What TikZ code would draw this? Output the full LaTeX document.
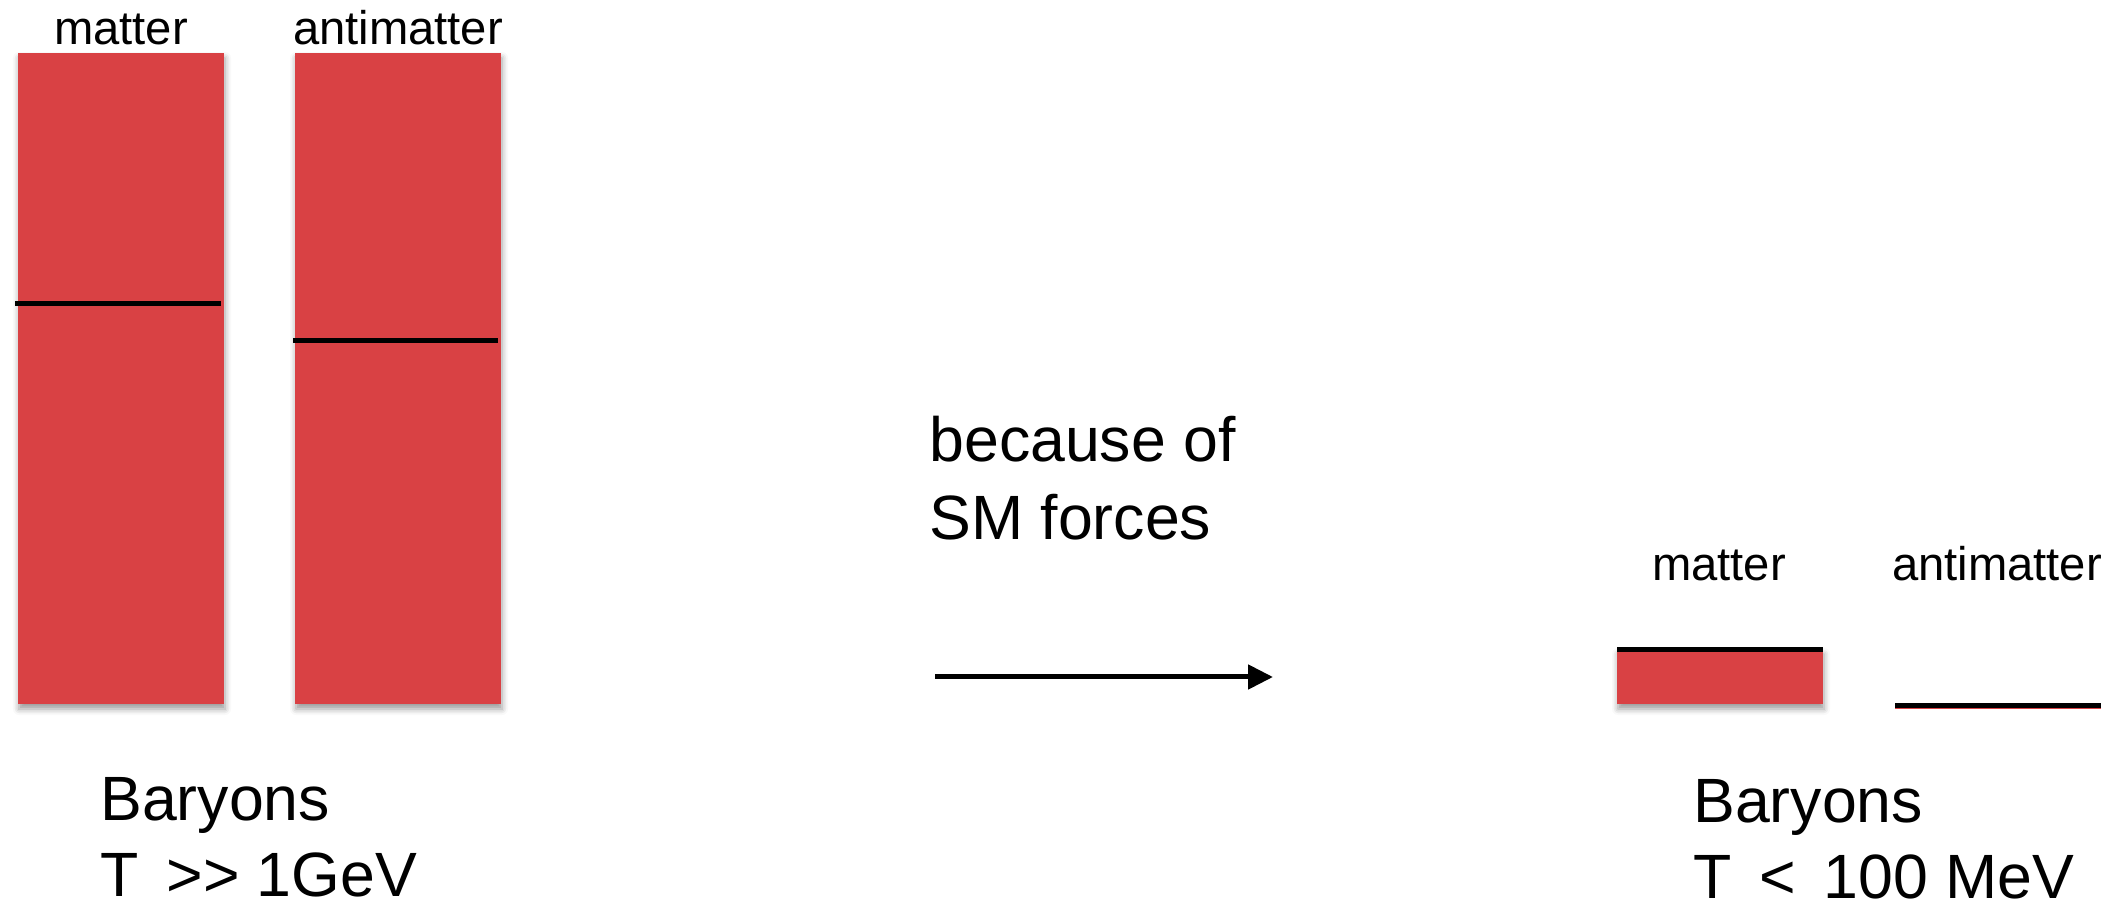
\documentclass[tikz,border=0pt]{standalone}
\usepackage{fontspec}
\setmainfont{Liberation Sans}
\usetikzlibrary{arrows.meta,shadows.blur}
\definecolor{barred}{RGB}{217,65,68}
\begin{document}
\begin{tikzpicture}[x=0.5pt,y=-0.5pt,
  bar/.style={draw=none, fill=barred, inner sep=0pt, outer sep=0pt,
    minimum width=103pt, anchor=north west,
    blur shadow={shadow xshift=0.5pt, shadow yshift=-2.5pt, shadow blur radius=3pt, shadow opacity=40}},
  level/.style={line width=2.5pt, black},
  lbl/.style={font=\fontsize{23.6}{28}\selectfont, anchor=base, inner sep=0pt},
  big/.style={font=\fontsize{31.3}{38}\selectfont, anchor=base west, inner sep=0pt},
  flow/.style={line width=2.5pt, -{Triangle[length=12.5pt,width=12pt]}}]
\useasboundingbox (0,0) rectangle (2117,908);
% left bars
\node[bar, minimum height=325.5pt] (m1) at (18,53) {};
\node[bar, minimum height=325.5pt] (a1) at (295,53) {};
\draw[level] (15,304) -- (221,304);
\draw[level] (293,341) -- (498,341);
\node[lbl] (lm1) at (121,45) {matter};
\node[lbl] (la1) at (398,45) {antimatter};
% bottom-left caption
\node[big] (c1a) at (100,821) {Baryons};
\node[big] (c1b) at (100,897) {T \,{>}{>} 1GeV};
% middle
\node[big] (t1) at (929,462) {because of};
\node[big] (t2) at (929,540) {SM forces};
\coordinate (s) at (935,677);
\coordinate (e) at (1273,677);
\draw[flow] (s) -- (e);
% right bars
\node[bar, minimum height=27.5pt] (m2) at (1617,649) {};
\draw[level] (1617,649.5) -- (1823,649.5);
\draw[barred, line width=0.6pt] (1895,708.3) -- (2101,708.3);
\draw[level] (1895,705.5) -- (2101,705.5);
\node[lbl] (lm2) at (1719,581) {matter};
\node[lbl] (la2) at (1997,581) {antimatter};
% bottom-right caption
\node[big] (c2a) at (1693,823) {Baryons};
\node[big] (c2b) at (1693,899) {T \,{<}\, 100 MeV};
\end{tikzpicture}
\end{document}
